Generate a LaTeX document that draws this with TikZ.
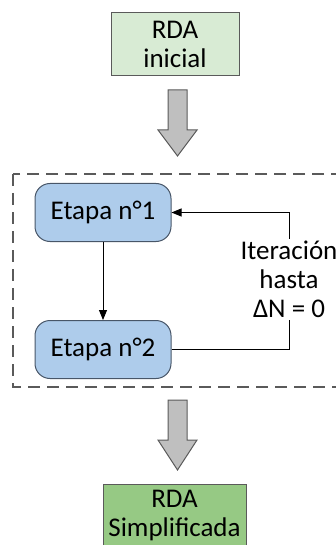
\documentclass[tikz,border=0pt]{standalone}
\usepackage{fontspec}
\setmainfont{Carlito}
\usetikzlibrary{positioning,arrows.meta}
\definecolor{rdaini}{RGB}{216,235,212}
\definecolor{rdasimp}{RGB}{150,201,132}
\definecolor{etapafill}{RGB}{174,204,235}
\definecolor{etapaline}{RGB}{72,86,104}
\definecolor{bigarrowfill}{RGB}{191,191,191}
\definecolor{boxline}{RGB}{90,90,90}
\begin{document}
\begin{tikzpicture}[x=1pt,y=-1pt,
    every node/.style={font=\fontsize{27}{29}\selectfont, align=center},
    rdabox/.style={draw=boxline, line width=1pt, minimum width=128pt, minimum height=63pt, inner sep=0pt},
    etapabox/.style={draw=etapaline, fill=etapafill, line width=1pt, rounded corners=15pt, minimum width=136pt, minimum height=58pt, inner sep=0pt},
    bigarrow/.style={draw=boxline, fill=bigarrowfill, line width=1pt, line join=miter},
    thin arrow/.style={line width=1pt, -{Triangle[length=10pt,width=8pt]}}]
  \useasboundingbox (0,0) rectangle (336,545);
  \def\arrowA{(168,90) -- (187,90) -- (187,130) -- (197,130) -- (177.5,156) -- (158,130) -- (168,130) -- cycle}
  \def\arrowB{(168,400) -- (187,400) -- (187,440) -- (197,440) -- (177.5,470) -- (158,440) -- (168,440) -- cycle}
      \node[rdabox, fill=rdaini] (ini) at (175,44.5) {RDA\\inicial};
      \draw[bigarrow] \arrowA;
      \draw[boxline, line width=1.2pt, dash pattern=on 12pt off 7pt] (13,174) rectangle (345,387);
      \node[etapabox] (e1) at (103,212.5) {Etapa n°1};
      \node[etapabox] (e2) at (103,349.5) {Etapa n°2};
      \node[inner sep=2pt] (iter) at (289,279.5) {Iteración\\hasta\\ΔN = 0};
      \draw[thin arrow] (e1) -- (e2);
      \draw[line width=1pt] (e2.east) -| (iter.south);
      \draw[thin arrow] (iter.north) |- (e1.east);
      \draw[bigarrow] \arrowB;
      \node[rdabox, fill=rdasimp, minimum width=143pt, anchor=north] (simp) at (174.5,484) {RDA\\Simplificada};
  \end{tikzpicture}
\end{document}
